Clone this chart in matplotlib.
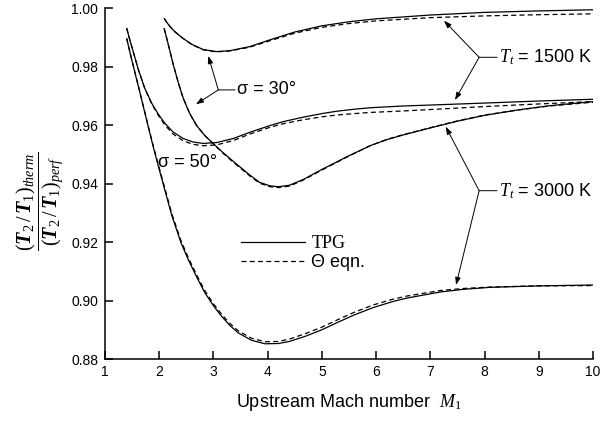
import matplotlib
matplotlib.use("Agg")
import matplotlib.pyplot as plt
from matplotlib.lines import Line2D

plt.rcParams['font.family'] = ['Liberation Sans', 'DejaVu Sans']
plt.rcParams['mathtext.fontset'] = 'custom'
plt.rcParams['mathtext.it'] = 'Liberation Serif:italic'
plt.rcParams['mathtext.rm'] = 'Liberation Serif'
plt.rcParams['mathtext.bf'] = 'Liberation Serif:italic:bold'

# ---------------- data ----------------
x_ticks = [1, 2, 3, 4, 5, 6, 7, 8, 9, 10]
y_ticks = [0.88, 0.90, 0.92, 0.94, 0.96, 0.98, 1.00]

# sigma = 30 deg, Tt = 1500 K
M_A = [2.09, 2.15, 2.22, 2.30, 2.44, 2.60, 2.81, 3.05, 3.30, 3.67, 4.04, 4.50,
       5.00, 5.50, 6.00, 7.00, 8.00, 9.00, 10.0]
A_tpg = [0.9965, 0.9948, 0.9932, 0.9917, 0.9896, 0.9876, 0.9858, 0.9851, 0.9854,
         0.9868, 0.9891, 0.9918, 0.9939, 0.9953, 0.9963, 0.9976, 0.9985, 0.9990, 0.9994]
A_theta = [0.9965, 0.9948, 0.9932, 0.9917, 0.9896, 0.9875, 0.9857, 0.9850, 0.9853,
           0.9866, 0.9888, 0.9914, 0.9934, 0.9947, 0.9956, 0.9967, 0.9973, 0.9977, 0.9980]

# sigma = 30 deg, Tt = 3000 K
M_B = [2.09, 2.15, 2.26, 2.35, 2.44, 2.56, 2.69, 2.84, 3.00, 3.18, 3.37, 3.67, 3.85,
       4.04, 4.20, 4.40, 4.66, 5.00, 5.50, 5.90, 6.20, 6.50, 7.00, 7.50, 8.00, 8.60,
       9.20, 10.0]
B_tpg = [0.9931, 0.9888, 0.9806, 0.9746, 0.9693, 0.9640, 0.9598, 0.9564, 0.9536,
         0.9505, 0.9475, 0.9429, 0.9404, 0.9392, 0.9389, 0.9394, 0.9414, 0.9448, 0.9495,
         0.9530, 0.9550, 0.9566, 0.9590, 0.9613, 0.9633, 0.9651, 0.9666, 0.9680]
B_theta = [0.9931, 0.9888, 0.9806, 0.9746, 0.9693, 0.9640, 0.9598, 0.9564, 0.9535,
           0.9503, 0.9472, 0.9426, 0.9401, 0.9389, 0.9386, 0.9391, 0.9412, 0.9446, 0.9494,
           0.9530, 0.9551, 0.9567, 0.9591, 0.9614, 0.9634, 0.9651, 0.9665, 0.9678]

# sigma = 50 deg, Tt = 1500 K
M_C = [1.40, 1.45, 1.52, 1.614, 1.73, 1.86, 1.98, 2.10, 2.25, 2.44, 2.62, 2.81, 3.06,
       3.37, 3.67, 4.04, 4.30, 4.66, 5.00, 5.27, 5.60, 5.89, 6.50, 7.12, 8.00, 9.00, 10.0]
C_tpg = [0.9931, 0.9896, 0.9851, 0.9790, 0.9727, 0.9675, 0.9638, 0.9607, 0.9577,
         0.9554, 0.9542, 0.9537, 0.9540, 0.9554, 0.9575, 0.9598, 0.9612, 0.9627, 0.9639,
         0.9647, 0.9654, 0.9659, 0.9665, 0.9669, 0.9675, 0.9682, 0.9688]
C_theta = [0.9931, 0.9896, 0.9851, 0.9790, 0.9727, 0.9673, 0.9634, 0.9601, 0.9570,
           0.9546, 0.9534, 0.9529, 0.9532, 0.9547, 0.9569, 0.9592, 0.9605, 0.9618, 0.9628,
           0.9634, 0.9639, 0.9643, 0.9648, 0.9654, 0.9663, 0.9672, 0.9680]

# sigma = 50 deg, Tt = 3000 K
M_D = [1.40, 1.45, 1.50, 1.56, 1.614, 1.70, 1.80, 1.90, 1.98, 2.10, 2.23, 2.40, 2.54,
       2.70, 2.84, 3.00, 3.15, 3.30, 3.46, 3.70, 3.95, 4.20, 4.40, 4.70, 5.00, 5.30,
       5.60, 5.95, 6.30, 6.56, 7.18, 7.60, 8.10, 9.00, 10.0]
D_tpg = [0.9896, 0.9856, 0.9818, 0.9773, 0.9733, 0.9668, 0.9592, 0.9518, 0.9462,
         0.9380, 0.9292, 0.9198, 0.9138, 0.9077, 0.9027, 0.8982, 0.8946, 0.8915, 0.8889,
         0.8864, 0.8852, 0.8853, 0.8860, 0.8878, 0.8900, 0.8926, 0.8951, 0.8976, 0.8996,
         0.9008, 0.9029, 0.9038, 0.9045, 0.9050, 0.9053]
D_theta = [0.9896, 0.9857, 0.9819, 0.9774, 0.9735, 0.9670, 0.9595, 0.9522, 0.9467,
           0.9386, 0.9298, 0.9205, 0.9145, 0.9084, 0.9034, 0.8989, 0.8953, 0.8922, 0.8896,
           0.8871, 0.8859, 0.8860, 0.8868, 0.8887, 0.8909, 0.8935, 0.8960, 0.8985, 0.9004,
           0.9015, 0.9034, 0.9041, 0.9046, 0.9050, 0.9051]

series = [(M_A, A_tpg, A_theta), (M_B, B_tpg, B_theta),
          (M_C, C_tpg, C_theta), (M_D, D_tpg, D_theta)]

# ---------------- figure ----------------
W, H = 611, 423
fig = plt.figure(figsize=(W / 100, H / 100), dpi=100)
ax = fig.add_axes([105 / W, 1 - 359 / H, 488 / W, 351 / H])

LW = 0.9
DASH = (0, (4.0, 2.6))
for m, tpg, theta in series:
    ax.plot(m, tpg, color='black', lw=LW, solid_capstyle='butt')
    ax.plot(m, theta, color='black', lw=LW, linestyle=DASH)

ax.set_xlim(1, 10)
ax.set_ylim(0.88, 1.00)
ax.set_xticks(x_ticks)
ax.set_xticklabels([str(t) for t in x_ticks])
ax.set_yticks(y_ticks)
ax.set_yticklabels(['%.2f' % t for t in y_ticks])
for s in ['top', 'right']:
    ax.spines[s].set_visible(False)
for s in ['left', 'bottom']:
    ax.spines[s].set_linewidth(1.1)
ax.tick_params(direction='in', length=5.8, width=1.1, labelsize=10)
ax.tick_params(axis='y', pad=5)
ax.tick_params(axis='x', pad=4)

# axis labels
ax.set_xlabel(r'Upstream Mach number  $M_{\mathit{1}}$', fontsize=13)
ax.xaxis.set_label_coords(0.5, -0.125)
ax.xaxis.label.set_va('center')

fig.text(40 / W, 1 - 201 / H,
         r'$\dfrac{(\mathbf{T}_{\mathit{2}}\,/\,\mathbf{T}_{\mathit{1}})_{therm}}'
         r'{(\mathbf{T}_{\mathit{2}}\,/\,\mathbf{T}_{\mathit{1}})_{perf}}$',
         rotation=90, ha='center', va='center', fontsize=14.5)

# legend
h_solid = Line2D([], [], color='black', lw=LW)
h_dash = Line2D([], [], color='black', lw=LW, linestyle=DASH)
leg = ax.legend([h_solid, h_dash], ['TPG', '\u0398 eqn.'], frameon=False,
                loc='center left', bbox_to_anchor=(0.278, 0.302),
                borderpad=0, borderaxespad=0, handlelength=3.55,
                handletextpad=0.37, labelspacing=0.12, fontsize=13)
leg.get_texts()[0].set_family('Liberation Serif')

# annotations
AP = dict(arrowstyle='-|>,head_length=0.45,head_width=0.16', lw=0.7,
          color='black', shrinkA=0, shrinkB=0)
LP = dict(arrowstyle='-', lw=0.7, color='black', shrinkA=0, shrinkB=0)

def label(junction, tips, text_x, text):
    for tip in tips:
        ax.annotate('', xy=tip, xytext=junction, arrowprops=AP)
    ax.annotate('', xy=(text_x - 0.04, junction[1]), xytext=junction, arrowprops=LP)
    ax.text(text_x, junction[1], text, ha='left', va='center', fontsize=13)

label((3.09, 0.9720), [(2.905, 0.9836), (2.678, 0.9671)], 3.44, '\u03c3 = 30\u00b0')
label((7.90, 0.98315), [(7.252, 0.99566), (7.455, 0.96855)], 8.27, r'$T_t$ = 1500 K')
label((7.90, 0.93754), [(7.285, 0.95942), (7.474, 0.9053)], 8.27, r'$T_t$ = 3000 K')
ax.text(1.97, 0.9473, '\u03c3 = 50\u00b0', ha='left', va='center', fontsize=13)

fig.savefig('out.png', dpi=100)
